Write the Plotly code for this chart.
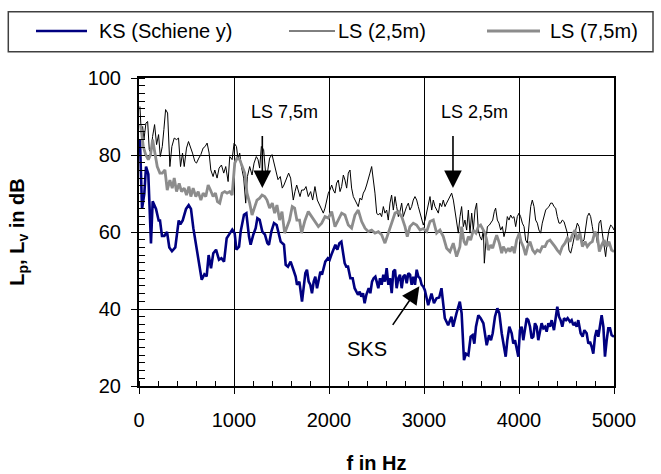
import plotly.graph_objects as go

# ---------------- data ----------------
ks_f = [10, 32, 56, 74, 98, 126, 144, 179, 207, 221, 242, 267, 295, 319, 347, 382, 418, 435, 460, 495,
        523, 547, 572, 600, 635, 660, 688, 712, 733, 758, 782, 811, 842, 867, 895, 923, 958, 982, 1007, 1025,
        1053, 1070, 1105, 1130, 1158, 1175, 1203, 1228, 1246, 1270, 1298, 1326, 1351, 1368, 1393, 1421, 1449, 1467, 1491, 1526,
        1544, 1568, 1596, 1625, 1649, 1663, 1688, 1716, 1733, 1751, 1768, 1786, 1803, 1821, 1839, 1856, 1874, 1891, 1909, 1926,
        1944, 1961, 1989, 2007, 2025, 2049, 2067, 2088, 2109, 2130, 2147, 2165, 2182, 2200, 2225, 2249, 2270, 2288, 2305, 2323,
        2340, 2358, 2375, 2393, 2418, 2435, 2453, 2470, 2488, 2502, 2519, 2537, 2554, 2572, 2589, 2607, 2625, 2642, 2660, 2677,
        2695, 2712, 2730, 2747, 2765, 2782, 2800, 2818, 2835, 2853, 2870, 2888, 2905, 2923, 2940, 2958, 2975, 2993, 3009, 3044,
        3079, 3105, 3132, 3160, 3184, 3219, 3254, 3289, 3307, 3342, 3377, 3396, 3421, 3442, 3467, 3491, 3512, 3530, 3547, 3572,
        3596, 3625, 3642, 3660, 3684, 3705, 3723, 3747, 3772, 3793, 3818, 3842, 3860, 3877, 3898, 3923, 3940, 3958, 3975, 3993,
        4010, 4028, 4045, 4063, 4081, 4098, 4116, 4133, 4151, 4168, 4186, 4203, 4221, 4238, 4256, 4274, 4291, 4309, 4326, 4344,
        4368, 4386, 4403, 4421, 4438, 4456, 4474, 4495, 4512, 4537, 4554, 4572, 4589, 4607, 4624, 4649, 4670, 4688, 4712, 4730,
        4747, 4765, 4782, 4800, 4817, 4835, 4853, 4870, 4888, 4905, 4923, 4940, 4958, 4975, 5000]
ks_db = [84, 66, 70, 77, 75, 57, 68, 66, 63, 63, 59, 59, 60, 56, 55, 56, 63, 62, 63, 66,
         67, 66, 61, 57, 51, 47.6, 49, 48.5, 54, 50.6, 54.5, 55.4, 52.8, 53.2, 52.3, 58.4, 59.7, 60.6, 59.7, 55.4,
         56.2, 60.1, 64.5, 64.9, 58.8, 56.7, 59.3, 61, 63.6, 63.2, 60.1, 59.3, 57.1, 56.7, 60.1, 62.3, 61.8, 59.7, 57.5, 56.7,
         51.5, 51, 52.3, 50.2, 48.4, 46.3, 47.1, 41.9, 45.4, 49.3, 50.2, 47.1, 46.3, 44.1, 47.1, 48.4, 45.4, 47.6, 49.7, 48.9,
         51, 52.3, 53.2, 52.8, 54.1, 55.8, 56.7, 55.4, 57.1, 57.5, 54.9, 51.9, 51, 51, 48, 48, 45.4, 44.5, 43.7, 44.5,
         43.2, 44.1, 41.5, 43.7, 45.4, 44.1, 47.1, 48, 48.4, 47.1, 45.4, 48, 46.3, 48.9, 47.1, 50.6, 46.3, 48, 44.1, 49.7,
         50.2, 45.4, 48, 48.9, 45.4, 48.4, 48.9, 46.7, 49.3, 48.9, 46.3, 48.4, 46.3, 50.2, 48.4, 48, 46.3, 45.8, 44.9, 41,
         44, 41.5, 42.8, 43, 45.4, 37.6, 35.8, 38, 35.4, 38.9, 41.9, 38.9, 26.7, 28.4, 28, 32.8, 33.2, 31, 35.4, 38.4,
         37.6, 36.3, 32.8, 30.6, 33.2, 31.9, 33.7, 38, 40.2, 38.9, 33.7, 30.2, 27.6, 31.9, 35.4, 33.7, 31, 31.9, 30.2, 27.6,
         34.5, 35.4, 31.9, 34.5, 37.6, 37.1, 35.4, 32.4, 32.8, 36.3, 35.4, 31.9, 34.5, 36.3, 35, 35.4, 34.1, 36.3, 35.4, 37.1,
         34.5, 37.1, 40.6, 38, 37.1, 35.4, 37.6, 37.1, 37.6, 36.7, 37.1, 35.8, 36.3, 35.4, 37.1, 33.7, 32.8, 34.5, 33.7, 31,
         31.5, 30.2, 28.4, 32.8, 34.5, 32.8, 36.3, 38.4, 35.4, 27.6, 31.9, 35, 35, 33.2, 32.8]

ls25_f = [10, 24, 38, 52, 73, 91, 108, 126, 143, 164, 185, 206, 224, 245, 262, 280, 301, 325, 346, 371,
          395, 416, 437, 458, 476, 500, 521, 542, 563, 588, 605, 630, 651, 675, 696, 717, 738, 756, 780, 798,
          822, 843, 868, 892, 913, 938, 955, 980, 1001, 1026, 1043, 1060, 1078, 1102, 1123, 1141, 1165, 1190, 1211, 1235,
          1253, 1270, 1288, 1312, 1330, 1351, 1375, 1400, 1421, 1445, 1463, 1487, 1508, 1526, 1550, 1575, 1596, 1624, 1642, 1660,
          1695, 1712, 1737, 1758, 1782, 1807, 1828, 1852, 1877, 1898, 1923, 1940, 1958, 1975, 1993, 2010, 2028, 2045, 2063, 2080,
          2098, 2116, 2133, 2151, 2168, 2186, 2203, 2221, 2238, 2256, 2273, 2291, 2308, 2326, 2344, 2361, 2379, 2396, 2414, 2431,
          2449, 2467, 2484, 2502, 2519, 2537, 2554, 2572, 2589, 2607, 2624, 2642, 2659, 2677, 2695, 2712, 2730, 2747, 2765, 2782,
          2800, 2817, 2835, 2852, 2870, 2887, 2905, 2923, 2940, 2958, 2975, 2993, 3011, 3028, 3046, 3063, 3081, 3098, 3116, 3133,
          3151, 3168, 3186, 3203, 3221, 3238, 3256, 3274, 3291, 3309, 3326, 3344, 3361, 3379, 3396, 3414, 3431, 3449, 3467, 3484,
          3502, 3519, 3537, 3554, 3572, 3589, 3607, 3625, 3635, 3653, 3667, 3688, 3705, 3723, 3740, 3754, 3772, 3789, 3807, 3825,
          3842, 3860, 3877, 3895, 3912, 3930, 3947, 3965, 3982, 4000, 4017, 4035, 4053, 4070, 4088, 4105, 4123, 4140, 4158, 4175,
          4193, 4210, 4228, 4245, 4263, 4281, 4298, 4316, 4333, 4351, 4368, 4386, 4403, 4421, 4438, 4456, 4474, 4491, 4509, 4526,
          4544, 4561, 4579, 4596, 4614, 4632, 4649, 4667, 4684, 4702, 4719, 4737, 4754, 4772, 4789, 4807, 4825, 4842, 4860, 4877,
          4895, 4912, 4930, 4947, 4965, 4982, 5000]
ls25_db = [92.6, 85.7, 87.4, 84, 88.3, 88.7, 81.4, 80.5, 84.8, 87.9, 82.7, 85.3, 79.6, 82.2, 86.6, 91.8, 90.9, 77, 82.2, 84.4,
           84, 84.4, 77, 80.5, 77, 81.8, 83.5, 82.2, 80.5, 78.3, 77.9, 79.2, 80.1, 81.8, 82.2, 83.1, 80.5, 76.1, 74.4, 76.1,
           74, 76.6, 77.4, 75.3, 77, 73.1, 79.6, 78.8, 83.1, 82.2, 78.8, 80.5, 77, 74, 67.5, 74.4, 77, 74.8, 77.9, 79.6,
           78.8, 76.6, 82.2, 81.4, 76.1, 75.3, 79.2, 80.1, 77.9, 75.7, 73.6, 74.4, 71.4, 72.2, 73.5, 75.3, 74, 68.3, 70.5, 72.2,
           69.2, 70.9, 70.9, 71.8, 69.2, 70.5, 68.3, 71.8, 68.3, 67, 65.7, 64.9, 66.2, 68.3, 70.1, 70.9, 72.2, 70.9, 70.1, 72.7,
           73.5, 70.5, 71.8, 74.8, 73.5, 71.4, 75.3, 76.1, 71.4, 69.2, 68.3, 67.5, 66.6, 68.8, 68.3, 70.1, 70.9, 72.2, 73.5, 75.3,
           77, 73.5, 70.1, 64.9, 64.4, 64.9, 64, 66.6, 64.9, 65.7, 63.1, 67.5, 69.6, 65.7, 69.2, 66.6, 64, 65.3, 67.5, 64,
           65.7, 66.6, 67.5, 65.7, 66.6, 68.3, 69.2, 68.3, 66.6, 64.9, 64, 61.8, 63.1, 64.9, 66.6, 69.2, 65.7, 68.3, 66.6, 65.7,
           64.9, 67.5, 66.6, 68.3, 66.6, 67.5, 68.3, 69.2, 70.1, 68.3, 65.7, 62.3, 59.7, 64, 66.6, 61.4, 63.1, 60.5, 65.7, 59.7,
           64.9, 60.5, 65.7, 67.5, 60.5, 58.8, 57.9, 60.5, 51.9, 57.9, 61.4, 61.8, 62.3, 63.1, 65.3, 66.2, 63.1, 62.3, 60.5, 61.4,
           58.8, 60.5, 64, 63.1, 64.4, 63.6, 64, 61.4, 64, 64.9, 64, 62.3, 61.4, 57.9, 57.1, 62.3, 66.6, 68.3, 66.6, 63.1,
           62.3, 60.5, 59.7, 62.3, 64, 65.7, 66.2, 66.6, 67.5, 67.5, 66.6, 66.2, 64, 62.3, 62.3, 63.1, 62.7, 61.4, 59.7, 55.3,
           54.5, 56.2, 58.8, 60.5, 62.3, 61.4, 58.8, 57.5, 57.9, 60.5, 64, 64.9, 64, 61.4, 58.8, 59.7, 57.1, 62.3, 63.1, 59.7,
           56.2, 53.6, 57.9, 60.5, 61.8, 61.4, 60.5]

ls75_f = [17, 45, 70, 98, 122, 143, 192, 220, 245, 273, 297, 325, 350, 371, 395, 423, 448, 476, 500, 525,
          546, 570, 598, 623, 651, 675, 703, 728, 752, 780, 805, 826, 850, 875, 903, 927, 955, 980, 1008, 1032,
          1060, 1088, 1113, 1137, 1165, 1190, 1218, 1242, 1270, 1295, 1323, 1347, 1375, 1403, 1428, 1452, 1480, 1505, 1533, 1557,
          1585, 1613, 1638, 1662, 1690, 1712, 1747, 1782, 1817, 1852, 1888, 1923, 1958, 1993, 2028, 2063, 2098, 2133, 2168, 2203,
          2238, 2273, 2308, 2344, 2379, 2414, 2449, 2484, 2519, 2554, 2589, 2624, 2659, 2695, 2730, 2765, 2800, 2824, 2852, 2887,
          2922, 2958, 2993, 3028, 3063, 3098, 3133, 3168, 3203, 3238, 3273, 3308, 3343, 3378, 3396, 3421, 3442, 3467, 3491, 3519,
          3547, 3572, 3596, 3625, 3642, 3660, 3677, 3702, 3723, 3747, 3765, 3793, 3818, 3835, 3863, 3888, 3905, 3930, 3951, 3975,
          4003, 4021, 4045, 4070, 4091, 4116, 4144, 4168, 4193, 4221, 4245, 4274, 4298, 4326, 4354, 4379, 4403, 4431, 4456, 4484,
          4509, 4537, 4561, 4589, 4614, 4642, 4667, 4695, 4719, 4747, 4772, 4800, 4825, 4846, 4870, 4895, 4923, 4947, 4975, 5000]
ls75_db = [87.9, 82.2, 80.1, 78.8, 80.1, 84, 77, 75.3, 75.3, 76.1, 70.9, 73.5, 71.4, 74, 70.5, 72.6, 70.5, 71.4, 69.6, 71.8,
           69.2, 71.4, 69.2, 70.5, 68.3, 70.1, 69.2, 72.2, 70.9, 69.2, 70.1, 67.9, 67.5, 70.1, 70.5, 70.1, 70.5, 69.6, 77.9, 79.2,
           78.8, 77, 75.3, 70.1, 67.5, 64.4, 66.6, 68.3, 68.8, 69.6, 69.2, 68.3, 66.2, 67.5, 64.9, 67, 63.1, 65.3, 59.7, 61.4,
           63.1, 66.6, 66.2, 63.1, 63.1, 59.7, 63, 65.3, 64, 62.7, 61.4, 62.3, 64, 63.6, 65.3, 61.4, 63.1, 64.9, 64.4, 61.8,
           61, 64.4, 65.7, 62.7, 61, 60.1, 60.5, 59.7, 60.1, 59.3, 57.1, 59.7, 62.3, 64.9, 65.3, 64, 61.4, 58.8, 61.4, 62.3,
           61.8, 60.5, 60.9, 60.1, 62.7, 63.1, 59.7, 60.5, 58.8, 55.8, 54.9, 57.1, 53.6, 56.2, 61.4, 57.5, 56.6, 58.8, 57.9, 60.5,
           59.7, 61.4, 61.8, 60.5, 59.7, 57.9, 55.3, 56.6, 55.8, 57.9, 59.2, 57.1, 54.5, 56.2, 54.9, 55.8, 54.9, 56.2, 54.5, 57.9,
           59.7, 57.5, 56.2, 54, 56.2, 57.5, 55.3, 54.5, 55.3, 54.9, 56.2, 56.2, 57.5, 57.9, 57.1, 56.2, 55.3, 54.5, 56.2, 57.1,
           58.4, 57.5, 59.2, 60.5, 57.9, 59.7, 56.2, 57.5, 56.2, 57.1, 57.5, 60.1, 58.8, 54.9, 56.6, 57.9, 56.2, 57.5, 55.3, 54.9]

series_names = ["KS (Schiene y)", "LS (2,5m)", "LS (7,5m)"]
x_ticks = [0, 1000, 2000, 3000, 4000, 5000]
y_ticks = [20, 40, 60, 80, 100]

# ---------------- figure ----------------
FONT = "Arial, Liberation Sans, sans-serif"
W, H = 661, 474
L, R, T, B = 139, 47, 78, 88
PW, PH = W - L - R, H - T - B

def px(x):
    return (x - L) / PW

def py(y):
    return (H - B - y) / PH

colors = ["#000080", "#000000", "#8c8c8c"]
widths = [2.6, 1.0, 2.8]

fig = go.Figure()
for f, d, name, c, w in zip([ks_f, ls25_f, ls75_f], [ks_db, ls25_db, ls75_db], series_names, colors, widths):
    fig.add_trace(go.Scatter(x=f, y=d, mode="lines", name=name,
                             line=dict(color=c, width=w), showlegend=False))

axis_common = dict(showline=True, linecolor="black", linewidth=2, mirror=True, automargin=False,
                   ticks="outside", ticklen=6, tickcolor="black", tickwidth=1,
                   showgrid=True, gridcolor="black", gridwidth=1, zeroline=False,
                   tickfont=dict(family=FONT, size=20, color="black"))

fig.update_xaxes(range=[0, 5000], tickvals=x_ticks, **axis_common, ticklabelstandoff=9,
                 minor=dict(ticks="inside", dtick=200, ticklen=5, tickcolor="black", showgrid=False),
                 title=dict(text="<b>f in Hz</b>", font=dict(family=FONT, size=20, color="black"), standoff=26))
fig.update_yaxes(range=[20, 100], tickvals=y_ticks, **axis_common, ticklabelstandoff=6,
                 minor=dict(ticks="inside", dtick=2, ticklen=6, tickcolor="black", showgrid=False),
                 title=dict(text="<b>L<sub>p</sub>, L<sub>v</sub> in dB</b>",
                            font=dict(family=FONT, size=20, color="black"), standoff=58))

# manual legend box
shapes = [dict(type="rect", xref="paper", yref="paper", x0=px(8.3), x1=px(653), y0=py(51.7), y1=py(11.7),
               line=dict(color="#404040", width=1.5), fillcolor="white", layer="below")]
leg_items = [(36, 87, 97, 0), (289, 335, 336, 1), (487, 540, 548, 2)]
annotations = []
for x0, x1, tx, i in leg_items:
    shapes.append(dict(type="line", xref="paper", yref="paper", x0=px(x0), x1=px(x1), y0=py(31), y1=py(31),
                       line=dict(color=colors[i], width=widths[i])))
    annotations.append(dict(xref="paper", yref="paper", x=px(tx), y=py(31), text=series_names[i],
                            showarrow=False, xanchor="left", yanchor="middle",
                            font=dict(family=FONT, size=20, color="black")))

# annotations with arrows
arrow_common = dict(showarrow=True, arrowhead=2, arrowsize=2.2, arrowwidth=1.6, arrowcolor="black",
                    axref="x", ayref="y", text="", standoff=0)
annotations += [
    dict(x=1298, y=71.4, ax=1298, ay=85.3, **arrow_common),
    dict(x=3305, y=71.4, ax=3305, ay=85.3, **arrow_common),
    dict(x=2951, y=45.9, ax=2660, ay=35.5, **arrow_common),
    dict(x=1161, y=91.3, text="LS 7,5m", showarrow=False, xanchor="left", yanchor="middle",
         font=dict(family=FONT, size=18, color="black")),
    dict(x=3158, y=91.3, text="LS 2,5m", showarrow=False, xanchor="left", yanchor="middle",
         font=dict(family=FONT, size=18, color="black")),
    dict(x=2405, y=29.6, text="SKS", showarrow=False, xanchor="center", yanchor="middle",
         font=dict(family=FONT, size=20, color="black")),
]

fig.update_layout(width=W, height=H, autosize=False,
                  margin=dict(l=L, r=R, t=T, b=B, pad=0),
                  plot_bgcolor="white", paper_bgcolor="white",
                  shapes=shapes, annotations=annotations,
                  font=dict(family=FONT, color="black"))

fig.write_html("out.html")
